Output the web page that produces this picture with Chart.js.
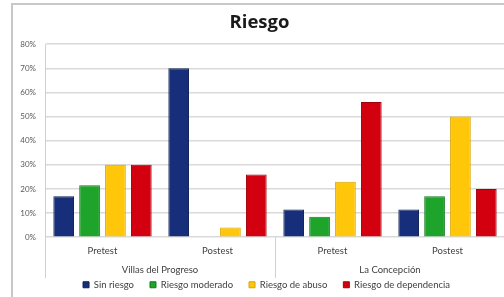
<!DOCTYPE html>
<html>
<head>
<meta charset="utf-8">
<script src="https://cdn.jsdelivr.net/npm/chart.js@4/dist/chart.umd.min.js"></script>
<style>
    html, body { margin: 0; padding: 0; background: #fff; overflow: hidden; }
    #wrap { position: relative; width: 530px; height: 297px; }
</style>
</head>
<body>
<div id="wrap"><canvas id="chart"></canvas></div>
<script>
const fases = ["Pretest", "Postest", "Pretest", "Postest"];
const lugares = ["Villas del Progreso", "La Concepción"];
const yTicks = [0, 10, 20, 30, 40, 50, 60, 70, 80];

const sinRiesgo = [17, 70, 11.5, 11.5];
const riesgoModerado = [21.5, 0, 8.5, 17];
const riesgoAbuso = [30, 4, 23, 50];
const riesgoDependencia = [30, 26, 56, 20];

const FONT = "Lato, 'Open Sans', sans-serif";

/* marco gris, separadores de grupo y ajuste de leyenda/titulo */
const decor = {
    id: "decor",
    beforeInit(c) {
        // la leyenda no debe ocupar tanto alto
        const fit = c.legend.fit;
        c.legend.fit = function () {
            fit.call(this);
            this.height = 21;
        };
    },
    afterLayout(c) {
        const lg = c.legend;
        lg.top -= 12;
        lg.bottom = c.height;
        lg.left += 14; lg.right += 14;
        const t = c.titleBlock;
        t.left += 7; t.right += 7;
    },
    beforeDraw(c) {
        const ctx = c.ctx;
        ctx.save();
        ctx.strokeStyle = "#c8c8c8";
        ctx.lineWidth = 2;
        ctx.strokeRect(12, 4, 700, 400);
        ctx.restore();
    },
    afterDraw(c) {
        const x = c.scales.x;
        const x2 = c.scales.x2;
        const ctx = c.ctx;
        ctx.save();
        ctx.strokeStyle = "#d0d0d0";
        ctx.lineWidth = 1;
        [-0.5, 1.5, 3.5].forEach(v => {
            const px = Math.round(x.getPixelForValue(v)) + 0.5;
            ctx.beginPath();
            ctx.moveTo(px, c.chartArea.bottom);
            ctx.lineTo(px, x2.bottom + 2);
            ctx.stroke();
        });
        ctx.restore();
    }
};

function serie(label, data, color, border) {
    return {
        label,
        data,
        backgroundColor: color,
        borderColor: border,
        borderWidth: 1,
        categoryPercentage: 0.9,
        barPercentage: 0.8
    };
}

new Chart(document.getElementById("chart").getContext("2d"), {
    type: "bar",
    data: {
        labels: fases,
        datasets: [
            serie("Sin riesgo", sinRiesgo, "#172f7a", "#0e1f55"),
            serie("Riesgo moderado", riesgoModerado, "#1ea32b", "#127a1c"),
            serie("Riesgo de abuso", riesgoAbuso, "#ffc60a", "#d9a400"),
            serie("Riesgo de dependencia", riesgoDependencia, "#d3000f", "#a0000a")
        ]
    },
    options: {
        responsive: true,
        maintainAspectRatio: false,
        animation: false,
        layout: { padding: { left: 0, right: 25, top: 0, bottom: 0 } },
        plugins: {
            title: {
                display: true,
                text: "Riesgo",
                color: "#1a1a1a",
                font: { family: "'Open Sans', sans-serif", size: 18.5, weight: "bold" },
                padding: { top: 12, bottom: 10 }
            },
            legend: {
                position: "bottom",
                labels: {
                    color: "#404040",
                    font: { family: FONT, size: 9.5 },
                    boxWidth: 6,
                    boxHeight: 6,
                    padding: 16
                }
            },
            tooltip: { enabled: false }
        },
        scales: {
            x: {
                grid: { display: false, drawTicks: false },
                border: { display: false },
                ticks: { color: "#404040", font: { family: FONT, size: 9.5 }, padding: 8 }
            },
            x2: {
                type: "category",
                labels: lugares,
                offset: true,
                position: "bottom",
                grid: { display: false, drawTicks: false },
                border: { display: false },
                ticks: { color: "#404040", font: { family: FONT, size: 9.5 }, padding: 0 }
            },
            y: {
                min: 0,
                max: 80,
                afterBuildTicks: s => { s.ticks = yTicks.map(v => ({ value: v })); },
                afterFit: s => { s.width = 45; },
                grid: { color: "#d9d9d9", lineWidth: 1.5, drawTicks: false },
                border: { display: true, color: "#d0d0d0" },
                ticks: {
                    color: "#595959",
                    font: { family: FONT, size: 8 },
                    padding: 9,
                    callback: v => v + "%"
                }
            }
        }
    },
    plugins: [decor]
});
</script>
</body>
</html>
